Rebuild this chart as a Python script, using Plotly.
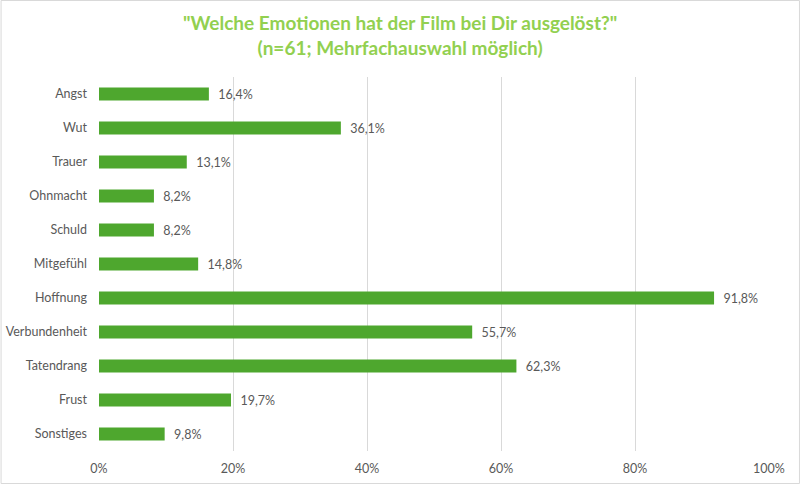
import plotly.graph_objects as go

categories = ["Angst", "Wut", "Trauer", "Ohnmacht", "Schuld", "Mitgefühl",
              "Hoffnung", "Verbundenheit", "Tatendrang", "Frust", "Sonstiges"]
values = [16.4, 36.1, 13.1, 8.2, 8.2, 14.8, 91.8, 55.7, 62.3, 19.7, 9.8]
labels = ["  " + f"{v:.1f}%".replace(".", ",") for v in values]
tick_vals = [0, 20, 40, 60, 80, 100]
tick_text = ["0%", "20%", "40%", "60%", "80%", "100%"]

W, H = 800, 484
L, R, T, B = 98.5, 31, 77, 33
pw, ph = W - L - R, H - T - B
FONT = "Lato"

fig = go.Figure(go.Bar(
    x=values, y=categories, orientation="h",
    marker=dict(color="#4EA72E", line_width=0),
    width=0.38,
    text=labels, textposition="outside", constraintext="none",
    textfont=dict(color="#595959", size=12.5, family=FONT),
    cliponaxis=False,
))

fig.update_layout(
    width=W, height=H,
    margin=dict(l=L, r=R, t=T, b=B, autoexpand=False),
    paper_bgcolor="white", plot_bgcolor="white",
    font=dict(family=FONT, color="#595959", size=12.5),
    xaxis=dict(range=[0, 100], tickvals=tick_vals, ticktext=tick_text,
               showgrid=True, gridcolor="#D9D9D9", gridwidth=1,
               zeroline=False, showline=False, ticks="", ticklabelstandoff=8,
               automargin=False,
               tickfont=dict(size=12.5, color="#595959")),
    yaxis=dict(autorange="reversed", showgrid=False, zeroline=False,
               showline=False, ticks="", ticklabelstandoff=11,
               automargin=False,
               tickfont=dict(size=12.5, color="#595959")),
    showlegend=False,
    annotations=[dict(
        text='<b>"Welche Emotionen hat der Film bei Dir ausgelöst?"<br>(n=61; Mehrfachauswahl möglich)</b>',
        xref="paper", yref="paper", x=(W / 2 - L) / pw, xanchor="center",
        y=1 + (T - 34.5) / ph, yanchor="middle", showarrow=False,
        font=dict(color="#92D050", size=19, family=FONT),
    )],
    shapes=[dict(type="rect", xref="paper", yref="paper",
                 x0=-(L - 0.5) / pw, x1=1 + (R - 0.5) / pw,
                 y0=-(B - 0.5) / ph, y1=1 + (T - 0.5) / ph,
                 line=dict(color="#D9D9D9", width=1), layer="below")],
)

fig.write_html("out.html")
